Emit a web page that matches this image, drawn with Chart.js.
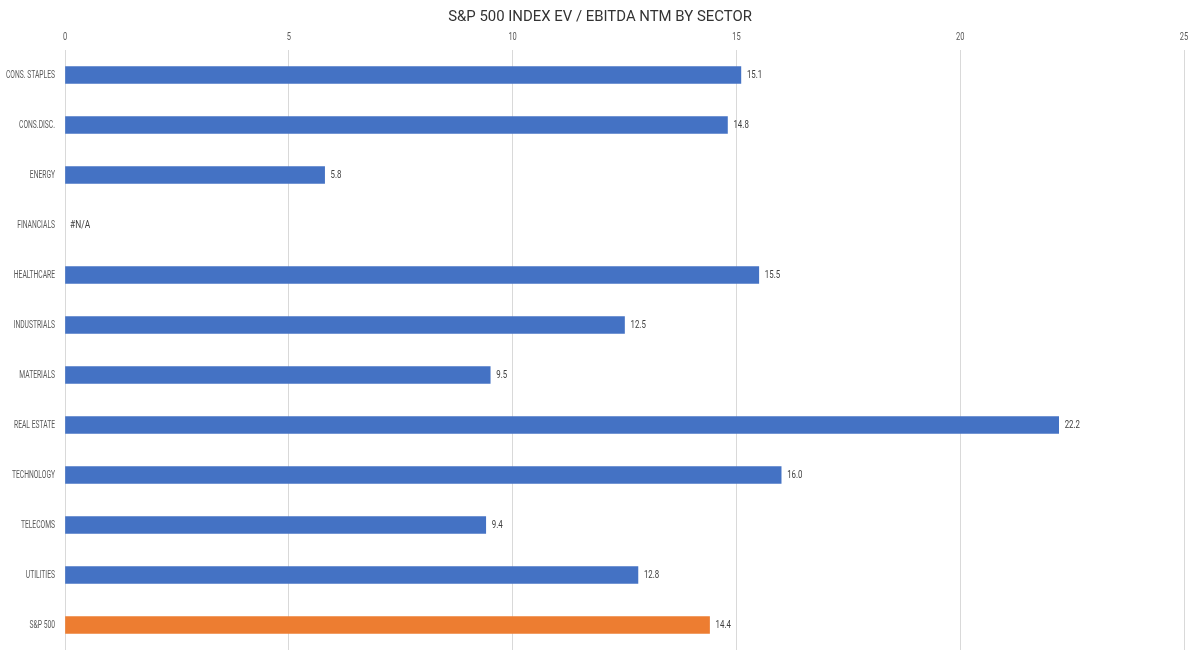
<!DOCTYPE html>
<html>
<head>
<meta charset="utf-8">
<script src="https://cdn.jsdelivr.net/npm/chart.js@4/dist/chart.umd.min.js"></script>
<style>
html,body{margin:0;padding:0;background:#fff;}
#wrap{width:1200px;height:660px;position:relative;}
</style>
</head>
<body>
<div id="wrap"><canvas id="c" width="1200" height="660"></canvas></div>
<script>
const titleText = "S&P 500 INDEX EV / EBITDA NTM BY SECTOR";
const categories = ["CONS. STAPLES","CONS.DISC.","ENERGY","FINANCIALS","HEALTHCARE","INDUSTRIALS","MATERIALS","REAL ESTATE","TECHNOLOGY","TELECOMS","UTILITIES","S&P 500"];
const values = [15.1, 14.8, 5.8, null, 15.5, 12.5, 9.5, 22.2, 16.0, 9.4, 12.8, 14.4];
const xTicks = [0, 5, 10, 15, 20, 25];
const blue = "#4472C4";
const orange = "#ED7D31";
const barColors = categories.map(c => c === "S&P 500" ? orange : blue);
const FONT = "Roboto,'DejaVu Sans',sans-serif";

function drawNarrow(ctx, text, x, y, size, sx, align, color) {
  ctx.save();
  ctx.font = size + "px " + FONT;
  ctx.fillStyle = color;
  ctx.textBaseline = "middle";
  const w = ctx.measureText(text).width * sx;
  let left = x;
  if (align === "right") left = x - w;
  else if (align === "center") left = x - w / 2;
  ctx.translate(left, y);
  ctx.scale(sx, 1);
  ctx.textAlign = "left";
  ctx.fillText(text, 0, 0);
  ctx.restore();
}

const textPlugin = {
  id: 'texts',
  afterDraw(chart) {
    const ctx = chart.ctx;
    const xs = chart.scales.x, ys = chart.scales.y;
    const meta = chart.getDatasetMeta(0);
    // title
    drawNarrow(ctx, titleText, 600, 17, 14, 1.065, "center", "#333333");
    // x tick labels
    xTicks.forEach(v => drawNarrow(ctx, String(v), xs.getPixelForValue(v), 37, 10, 0.75, "center", "#595959"));
    // y category labels
    categories.forEach((c, i) => drawNarrow(ctx, c, ys.left + ys.width - 10, ys.getPixelForValue(i), 10.5, 0.64, "right", "#595959"));
    // data labels
    meta.data.forEach((el, i) => {
      const v = values[i];
      if (v === null || v === undefined) {
        drawNarrow(ctx, "#N/A", xs.getPixelForValue(0) + 5, ys.getPixelForValue(i), 10.5, 0.8, "left", "#404040");
      } else {
        drawNarrow(ctx, v.toFixed(1), el.x + 6, el.y, 10.5, 0.75, "left", "#404040");
      }
    });
  }
};

new Chart(document.getElementById('c'), {
  type: 'bar',
  data: {
    labels: categories,
    datasets: [{
      data: values,
      backgroundColor: barColors,
      borderWidth: 0,
      barThickness: 17
    }]
  },
  options: {
    indexAxis: 'y',
    responsive: false,
    animation: false,
    devicePixelRatio: 1,
    layout: { padding: { top: 0, left: 0, right: 16, bottom: 10 } },
    plugins: { legend: { display: false }, title: { display: false }, tooltip: { enabled: false } },
    scales: {
      x: {
        position: 'top',
        min: 0, max: 25,
        afterFit(s) { s.height = 50; },
        afterBuildTicks(s) { s.ticks = xTicks.map(v => ({ value: v })); },
        grid: { color: "#d9d9d9", lineWidth: 1, drawTicks: false },
        border: { display: false },
        ticks: { display: false }
      },
      y: {
        afterFit(s) { s.width = 65; },
        grid: { display: false },
        border: { display: false },
        ticks: { display: false }
      }
    }
  },
  plugins: [textPlugin]
});
</script>
</body>
</html>
